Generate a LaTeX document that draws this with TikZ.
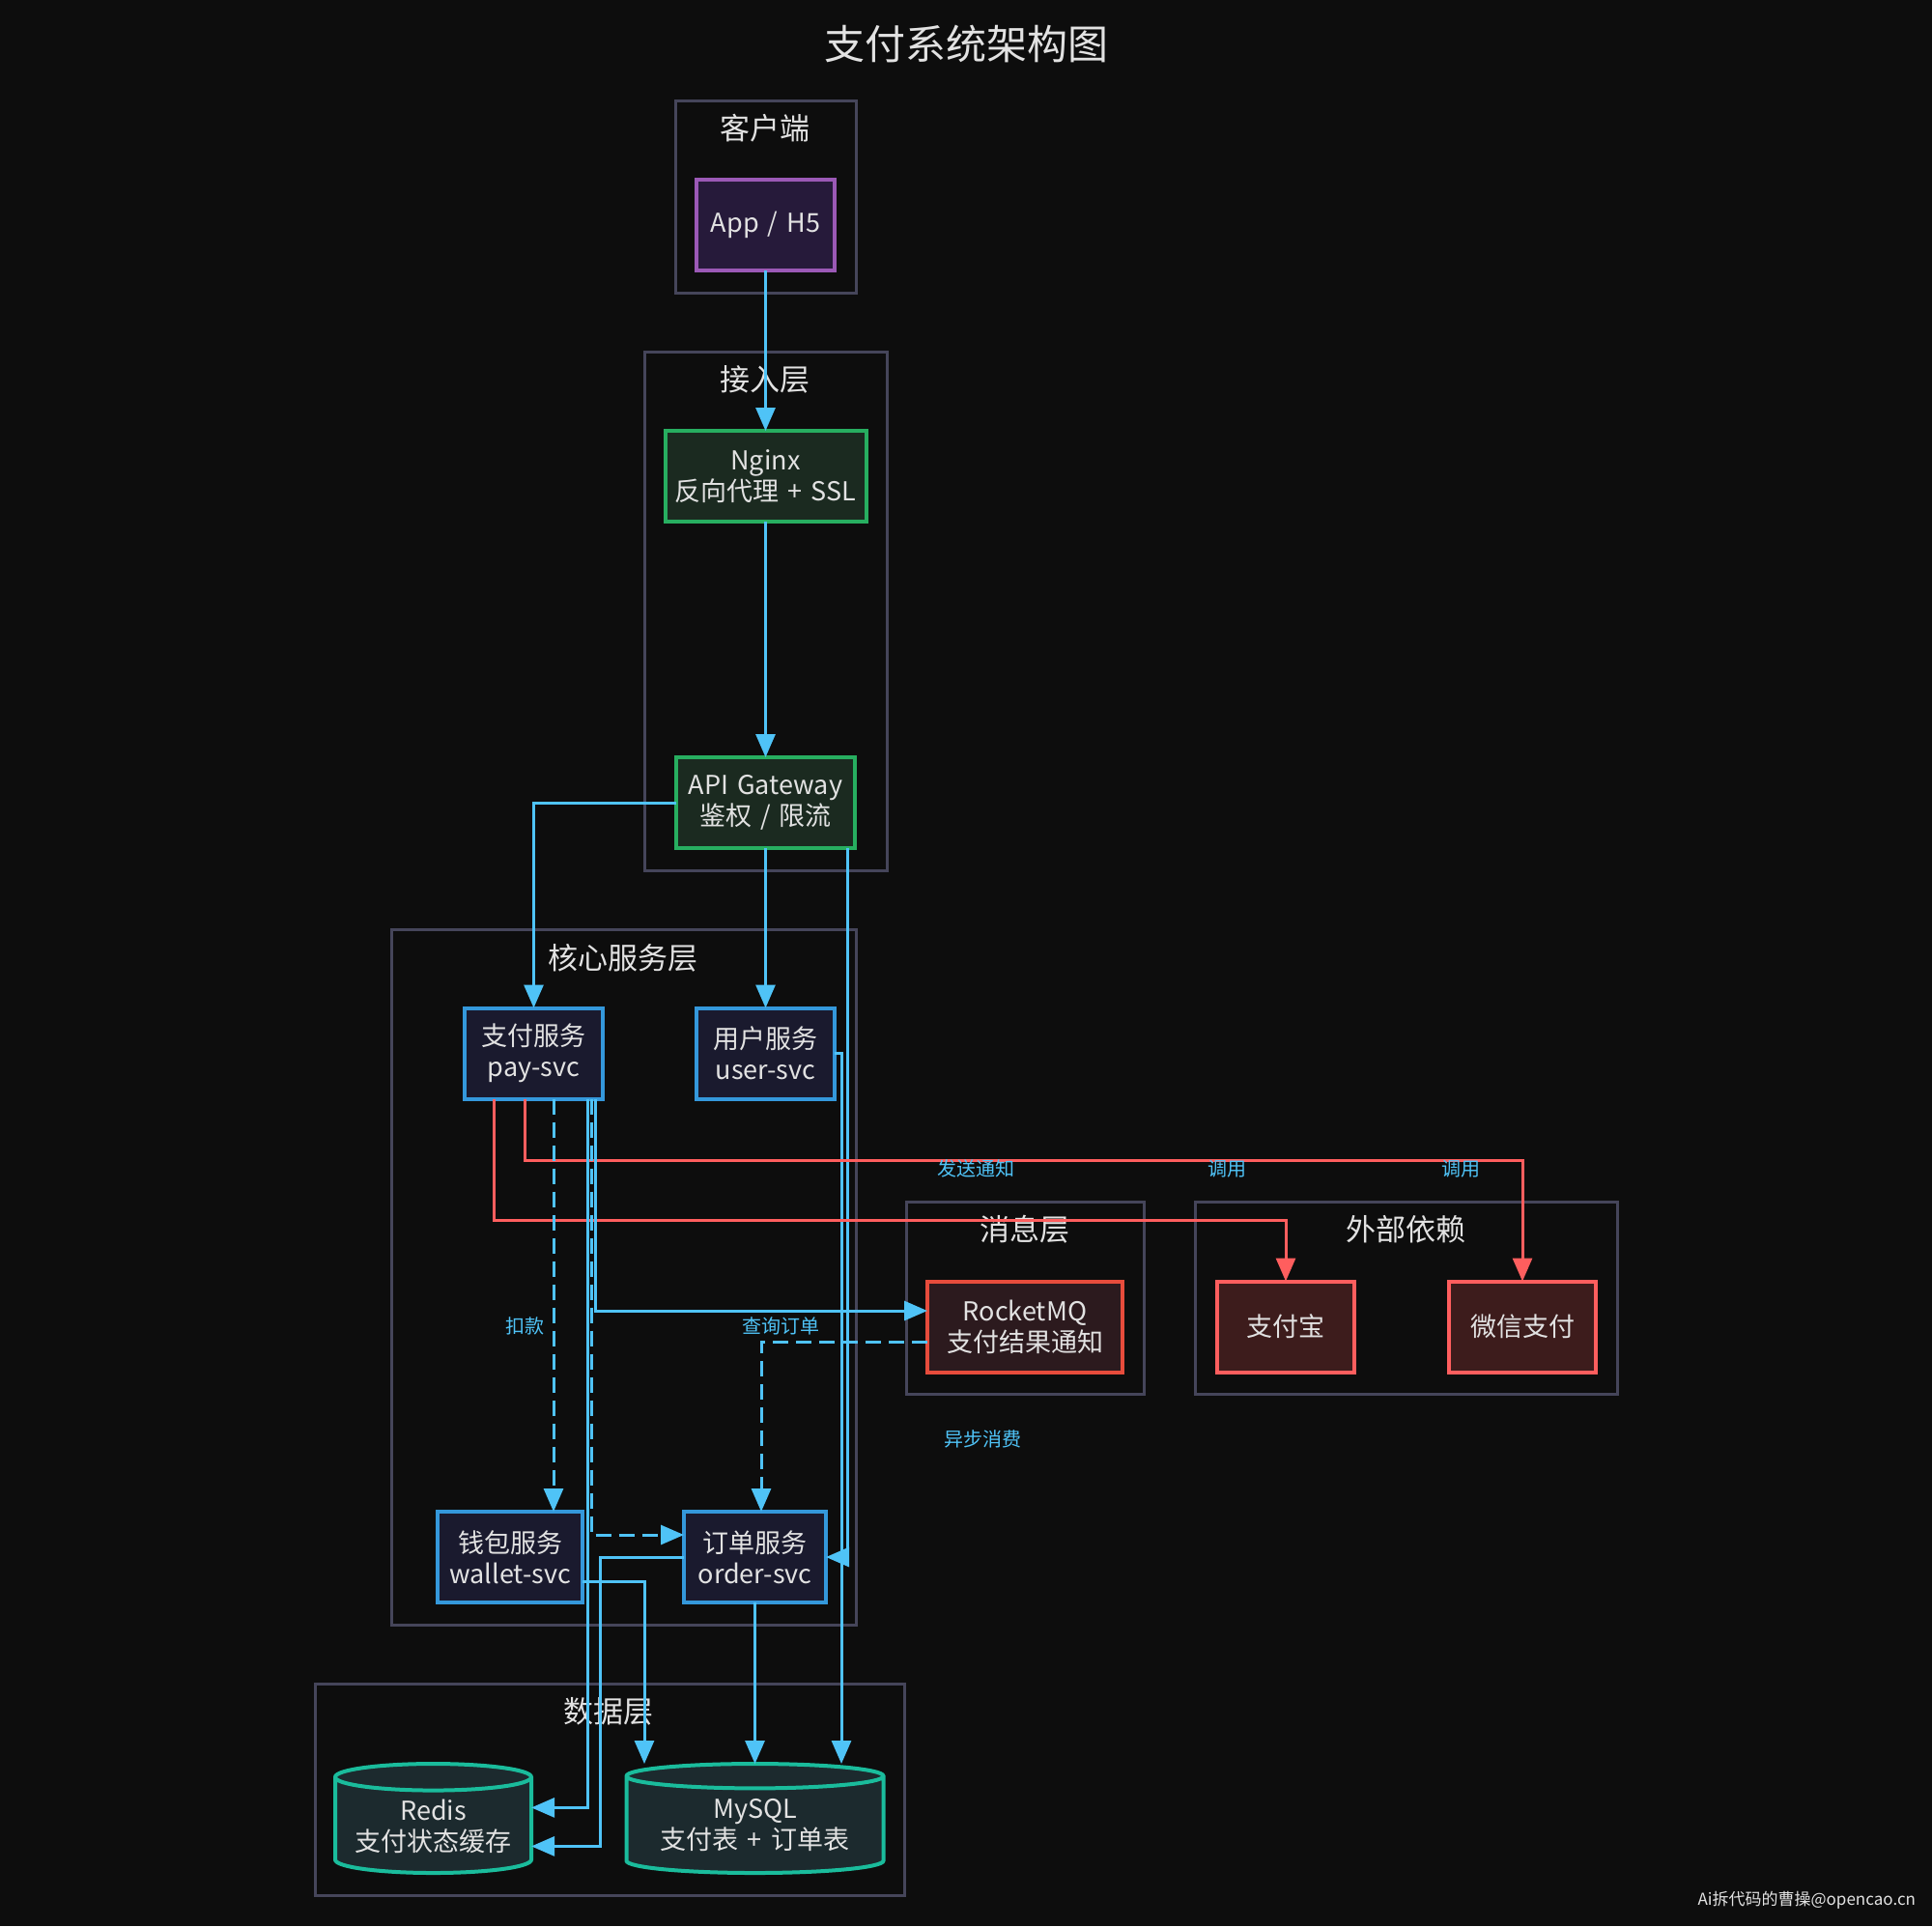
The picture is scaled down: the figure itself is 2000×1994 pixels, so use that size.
\documentclass[tikz,border=0pt]{standalone}
\usepackage{fontspec}
\setmainfont[WordSpace=1.5]{Noto Sans CJK SC}
\usetikzlibrary{arrows.meta,shapes.geometric,calc}
\definecolor{bgc}{HTML}{0D0D0D}
\definecolor{grpc}{HTML}{45455A}
\definecolor{txtc}{HTML}{E2E2E2}
\definecolor{purc}{HTML}{9B59B6}
\definecolor{purf}{HTML}{261A3A}
\definecolor{grnc}{HTML}{27AE60}
\definecolor{grnf}{HTML}{1B2A20}
\definecolor{svcc}{HTML}{3498DB}
\definecolor{svcf}{HTML}{1A1A2E}
\definecolor{mqc}{HTML}{E74C3C}
\definecolor{mqf}{HTML}{2C1A1E}
\definecolor{extc}{HTML}{FF5E5E}
\definecolor{extf}{HTML}{3D1C1C}
\definecolor{dbc}{HTML}{1ABC9C}
\definecolor{dbf}{HTML}{1C2A2E}
\definecolor{bluec}{HTML}{4FC3F7}
\definecolor{redc}{HTML}{FF5E5E}
\begin{document}
\begin{tikzpicture}[x=0.5pt,y=-0.5pt,inner sep=0pt,outer sep=0pt,
>={Triangle[length=12pt,width=10pt]},
grp/.style={draw=grpc,line width=1.5pt},
grptitle/.style={text=txtc,font=\fontsize{15.5}{18}\selectfont},
box/.style={draw,rectangle,line width=2pt,text=txtc,align=center,minimum height=47pt,font=\fontsize{13.5}{16}\selectfont},
appbox/.style={box,draw=purc,fill=purf},
gwbox/.style={box,draw=grnc,fill=grnf},
svcbox/.style={box,draw=svcc,fill=svcf},
mqbox/.style={box,draw=mqc,fill=mqf},
extbox/.style={box,draw=extc,fill=extf},
dbbox/.style={cylinder,shape border rotate=90,anchor=shape center,draw=dbc,fill=dbf,line width=2pt,text=txtc,align=center,minimum height=56.5pt,font=\fontsize{13.5}{16}\selectfont},
flow/.style={draw=bluec,line width=1.5pt},
hot/.style={draw=redc,line width=1.5pt},
async/.style={flow,dash pattern=on 8pt off 4pt},
edgetag/.style={text=bluec,font=\fontsize{10}{12}\selectfont}]
\path[use as bounding box,fill=bgc] (0,0) rectangle (2000,1994);
\draw (1000,45) node[text=txtc,font=\fontsize{21}{24}\selectfont] (title) {支付系统架构图};
% layers
\draw[grp] (699,104) rectangle (886,303);
\draw (792,133) node[grptitle] (clientT) {客户端};
\draw[grp] (667,364) rectangle (918,901);
\draw (792,393) node[grptitle] (accessT) {接入层};
\draw[grp] (405,962) rectangle (886,1682);
\draw (645,992) node[grptitle] (coreT) {核心服务层};
\draw[grp] (938,1244) rectangle (1184,1443);
\draw (1061,1273) node[grptitle] (msgT) {消息层};
\draw[grp] (1237,1244) rectangle (1674,1443);
\draw (1455,1273) node[grptitle] (extT) {外部依赖};
\draw[grp] (326,1743) rectangle (936,1962);
\draw (630,1772) node[grptitle] (dataT) {数据层};
% nodes
\draw (792.5,233) node[appbox,minimum width=71.5pt] (app) {App / H5};
\draw (792.5,493) node[gwbox,minimum width=104pt] (nginx) {Nginx\\反向代理 + SSL};
\draw (792.5,831) node[gwbox,minimum width=92.5pt] (gw) {API Gateway\\鉴权 / 限流};
\draw (552.5,1090.5) node[svcbox,minimum width=71.5pt] (pay) {支付服务\\pay-svc};
\draw (792.5,1090.5) node[svcbox,minimum width=71.5pt] (user) {用户服务\\user-svc};
\draw (528,1612) node[svcbox,minimum width=75pt] (wallet) {钱包服务\\wallet-svc};
\draw (781.5,1612) node[svcbox,minimum width=73.5pt] (order) {订单服务\\order-svc};
\draw (1061,1373.5) node[mqbox,minimum width=101pt] (mq) {RocketMQ\\支付结果通知};
\draw (1331,1373.5) node[extbox,minimum width=71pt] (ali) {支付宝};
\draw (1576,1373.5) node[extbox,minimum width=76pt] (wx) {微信支付};
\draw (448.5,1882.5) node[dbbox,aspect=0.17,minimum width=101.5pt] (redis) {Redis\\支付状态缓存};
\draw (781.5,1882.5) node[dbbox,aspect=0.13,minimum width=133pt] (mysql) {MySQL\\支付表 + 订单表};
% connectors
\draw[flow,->] (app) -- (nginx);
\draw[flow,->] (nginx) -- (gw);
\draw[flow,->] (gw.west) -| (pay.north);
\draw[flow,->] (gw) -- (user);
\draw[flow,->] ($(gw.south east)+(-8,0)$) |- (order.east);
\draw[flow,->] (user.east) -| ($(mysql.north)+(89.5,0)$);
\draw[hot,->] ($(pay.south)+(-41.5,0)$) -- ++(0,126) -| (ali.north);
\draw[hot,->] ($(pay.south)+(-9.5,0)$) -- ++(0,64) -| (wx.north);
\draw[async,->] ($(pay.south)+(20.5,0)$) -- ($(wallet.north)+(45,0)$);
\draw[flow,->] ($(pay.south)+(63.5,0)$) |- ($(mq.west)+(0,-16.5)$);
\draw[async,->] ($(pay.south)+(59.5,0)$) |- ($(order.west)+(0,-23)$);
\draw[flow,->] ($(pay.south)+(55.5,0)$) |- ($(redis.east)+(0,-19)$);
\draw[async,->] ($(mq.west)+(0,15.5)$) -| ($(order.north)+(6.5,0)$);
\draw[flow,->] (order.west) -- ++(-87,0) |- ($(redis.east)+(0,21)$);
\draw[flow,->] ($(wallet.east)+(0,25)$) -| ($(mysql.north)+(-114.5,0)$);
\draw[flow,->] (order.south) -- (mysql.north);
% labels
\draw (1010,1210) node[edgetag] (sendT) {发送通知};
\draw (1270,1210) node[edgetag] (callA) {调用};
\draw (1512,1210) node[edgetag] (callB) {调用};
\draw (543,1373) node[edgetag] (debitT) {扣款};
\draw (808,1373) node[edgetag] (queryT) {查询订单};
\draw (1017,1490) node[edgetag] (consumeT) {异步消费};
\draw (1983,1967) node[anchor=east,text=txtc,font=\fontsize{8.5}{10}\selectfont] (mark) {Ai拆代码的曹操@opencao.cn};
\end{tikzpicture}
\end{document}
